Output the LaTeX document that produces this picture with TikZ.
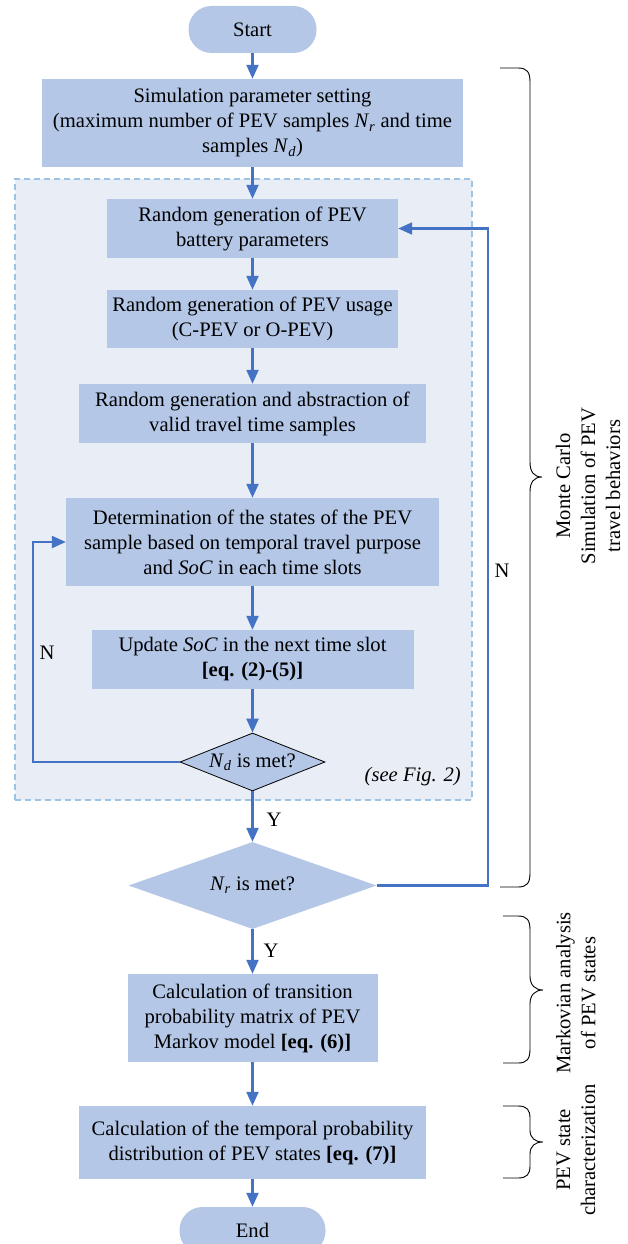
\documentclass[tikz,border=0pt]{standalone}
\usepackage{fontspec}
\setmainfont{Liberation Serif}
\usetikzlibrary{arrows.meta,shapes.geometric}
\definecolor{boxblue}{HTML}{B4C7E7}
\definecolor{arrowblue}{HTML}{4472C4}
\definecolor{framefill}{HTML}{E9EDF5}
\definecolor{frameline}{HTML}{9DC3E6}
\newcommand{\Nsb}[1]{\textit{N}\textsubscript{\textit{#1}}}
\begin{document}
\begin{tikzpicture}[x=1pt,y=-1pt,
  every node/.style={font=\fontsize{20.6}{25}\selectfont},
  procbox/.style={rectangle, fill=boxblue, inner sep=0pt, align=center},
  pill/.style={rectangle, rounded corners=23pt, fill=boxblue, inner sep=0pt},
  decision/.style={diamond, fill=boxblue, inner sep=0pt},
  arr/.style={draw=arrowblue, line width=2.2pt, -{Triangle[length=14pt,width=12pt]}},
  lbl/.style={inner sep=0pt},
  bracepath/.style={draw=black, line width=0.9pt},
  ]
\useasboundingbox (0,0) rectangle (628,1244);

% dashed frame
\node[rectangle, fill=framefill, draw=frameline, dashed, dash pattern=on 6pt off 4pt, line width=1.5pt,
  minimum width=457pt, minimum height=621pt, inner sep=0pt] (frame) at (243.5,489.5) {};

\node[pill, minimum width=128pt, minimum height=47pt] (start) at (252.5,29.5) {Start};
\node[procbox, minimum width=421pt, minimum height=88pt] (sim) at (252.5,123)
  {Simulation parameter setting\\(maximum number of PEV samples \Nsb{r} and time\\samples \Nsb{d})};
\node[procbox, minimum width=291pt, minimum height=59pt] (b1) at (252.5,228.5)
  {Random generation of PEV\\battery parameters};
\node[procbox, minimum width=291pt, minimum height=58pt] (b2) at (252.5,319)
  {Random generation of PEV usage\\(C-PEV or O-PEV)};
\node[procbox, minimum width=347pt, minimum height=59pt] (b3) at (252.5,413.5)
  {Random generation and abstraction of\\valid travel time samples};
\node[procbox, minimum width=373pt, minimum height=88pt] (b4) at (252.5,542)
  {Determination of the states of the PEV\\sample based on temporal travel purpose\\and \textit{SoC} in each time slots};
\node[procbox, minimum width=322pt, minimum height=59pt] (b5) at (252.5,659.5)
  {Update \textit{SoC} in the next time slot\\\textbf{[eq. (2)-(5)]}};
\node[decision, draw=black, line width=0.8pt, aspect=2.5, minimum width=145pt, minimum height=58pt] (nd) at (252.5,762)
  {\Nsb{d} is met?};
\node[decision, aspect=2.85, minimum width=248pt, minimum height=87pt] (nr) at (252.5,885.5)
  {\Nsb{r} is met?};
\node[procbox, minimum width=250pt, minimum height=88pt] (b6) at (252.5,1018)
  {Calculation of transition\\probability matrix of PEV\\Markov model \textbf{[eq. (6)]}};
\node[procbox, minimum width=347pt, minimum height=73pt] (b7) at (252.5,1142.5)
  {Calculation of the temporal probability\\distribution of PEV states \textbf{[eq. (7)]}};
\node[pill, minimum width=146pt, minimum height=47pt] (end) at (252.5,1230.5) {End};

\node[lbl, anchor=east] (see) at (461,777) {\textit{(see Fig. 2)}};

% arrows
\draw[arr] (start) -- (sim);
\draw[arr] (sim) -- (b1);
\draw[arr] (b1) -- (b2);
\draw[arr] (b2) -- (b3);
\draw[arr] (b3) -- (b4);
\draw[arr] (b4) -- (b5);
\draw[arr] (b5) -- (nd);
\draw[arr] (nd) -- (nr);
\draw[arr] (nr) -- (b6);
\draw[arr] (b6) -- (b7);
\draw[arr] (b7) -- (end);

\coordinate (lp) at (33,762);
\coordinate (rp) at (488,885.5);
\draw[arr] (nd.west) -- (lp) |- (b4.west);
\draw[arr] (nr.east) -- (rp) |- (b1.east);

\node[lbl] (nl) at (47,653) {N};
\node[lbl] (nrl) at (502,571) {N};
\node[lbl] (y1) at (274,820) {Y};
\node[lbl] (y2) at (271,951) {Y};

% braces
\draw[bracepath] (500,68) -- (518,68) .. controls (527,68) and (530,72) .. (530,82)
  -- (530,462) .. controls (530,472) and (534,477) .. (542,477)
  .. controls (534,477) and (530,482) .. (530,492)
  -- (530,873) .. controls (530,883) and (527,887) .. (518,887) -- (500,887);
\draw[bracepath] (503,916) -- (518,916) .. controls (527,916) and (530,920) .. (530,930)
  -- (530,976) .. controls (530,985) and (535,990) .. (543,990)
  .. controls (535,990) and (530,995) .. (530,1004)
  -- (530,1049) .. controls (530,1059) and (527,1063) .. (518,1063) -- (503,1063);
\draw[bracepath] (503,1106) -- (518,1106) .. controls (527,1106) and (530,1110) .. (530,1118)
  -- (530,1130) .. controls (530,1138) and (535,1142) .. (543,1142)
  .. controls (535,1142) and (530,1146) .. (530,1154)
  -- (530,1166) .. controls (530,1174) and (527,1178) .. (518,1178) -- (503,1178);

\node[lbl, rotate=90, align=center] (mc) at (588,486) {Monte Carlo\\Simulation of PEV\\travel behaviors};
\node[lbl, rotate=90, align=center] (mk) at (576,993) {Markovian analysis\\of PEV states};
\node[lbl, rotate=90, align=center] (ps) at (576,1150) {PEV state\\characterization};
\end{tikzpicture}
\end{document}
